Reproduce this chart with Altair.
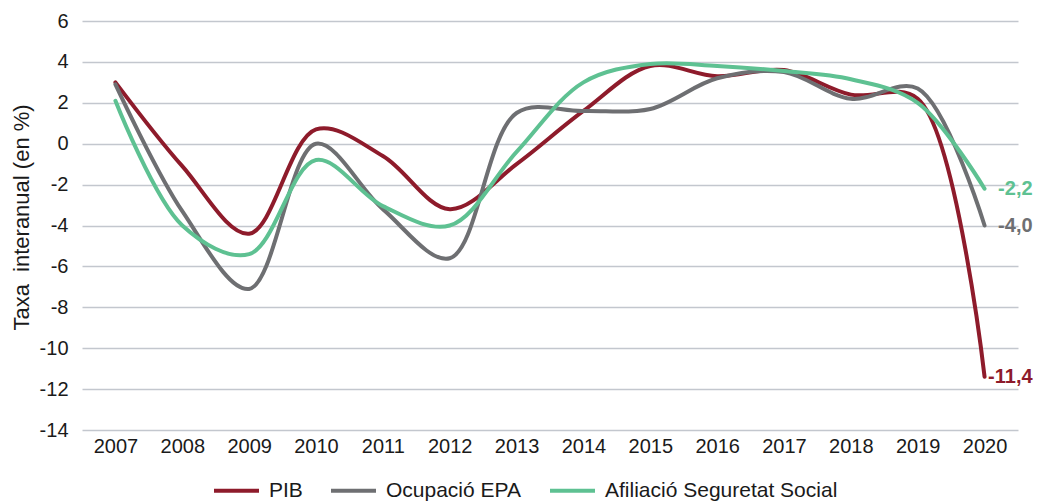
import altair as alt
import pandas as pd

years = [2007, 2008, 2009, 2010, 2011, 2012, 2013, 2014, 2015, 2016, 2017, 2018, 2019, 2020]
pib = [3.0, -1.1, -4.4, 0.7, -0.6, -3.2, -1.0, 1.6, 3.8, 3.3, 3.6, 2.4, 2.2, -11.4]
epa = [2.9, -3.3, -7.1, 0.0, -3.2, -5.6, 1.5, 1.6, 1.7, 3.2, 3.5, 2.2, 2.7, -4.0]
afil = [2.1, -4.0, -5.4, -0.8, -3.05, -4.0, -0.4, 3.0, 3.9, 3.8, 3.55, 3.15, 2.0, -2.2]

series_names = ["PIB", "Ocupació EPA", "Afiliació Seguretat Social"]
series_colors = ["#8E1B2B", "#6E6F72", "#5EC192"]
end_labels = ["-11,4", "-4,0", "-2,2"]

rows = []
for name, vals in zip(series_names, [pib, epa, afil]):
    for y, v in zip(years, vals):
        rows.append({"year": str(y), "value": v, "serie": name})
df = pd.DataFrame(rows)

last = pd.DataFrame({
    "year": [str(years[-1])] * 3,
    "value": [pib[-1], epa[-1], afil[-1]],
    "serie": series_names,
    "label": end_labels,
})

FONT = "Liberation Sans"
TXT = "#1A1A1A"

x_enc = alt.X("year:O", scale=alt.Scale(type="point", padding=0.5),
              axis=alt.Axis(title=None, labelAngle=0, ticks=False, domain=False,
                            labelFontSize=20, labelColor=TXT, labelPadding=6,
                            grid=False))
y_enc = alt.Y("value:Q", scale=alt.Scale(domain=[-14, 6], nice=False),
              axis=alt.Axis(title="Taxa\u00a0\u00a0interanual (en %)", values=list(range(-14, 7, 2)),
                            labelExpr="toString(datum.value)", ticks=False, domain=False,
                            labelFontSize=20, labelColor=TXT, labelPadding=14,
                            titleFontSize=22, titleFontWeight="normal", titleColor=TXT,
                            titlePadding=6, titleY=196,
                            grid=True, gridColor="#C3C7CE", gridWidth=1.5))

color_scale = alt.Scale(domain=series_names, range=series_colors)

lines = alt.Chart(df).mark_line(interpolate="catmull-rom", strokeWidth=4, strokeCap="round").encode(
    x=x_enc,
    y=y_enc,
    color=alt.Color("serie:N", scale=color_scale, sort=series_names,
                    legend=alt.Legend(title=None, orient="none", direction="horizontal",
                                      legendX=130, legendY=445,
                                      symbolType="stroke", symbolSize=2025, symbolStrokeWidth=4,
                                      labelFontSize=21, labelColor=TXT, labelFont=FONT,
                                      labelLimit=400, columnPadding=20, labelOffset=8)),
)

labels = alt.Chart(last).mark_text(align="right", baseline="middle", dx=48,
                                   fontSize=20, fontWeight="bold", font=FONT).encode(
    x=alt.X("year:O"),
    y=alt.Y("value:Q"),
    text="label:N",
    color=alt.Color("serie:N", scale=color_scale, legend=None),
)

chart = alt.layer(lines, labels).properties(
    width=936, height=409,
    autosize=alt.AutoSizeParams(type="none"),
    padding={"left": 74, "top": 13, "right": 15, "bottom": 73},
).configure(font=FONT).configure_view(stroke=None)

chart.save("out.html", embed_options={"renderer": "svg", "actions": False})
